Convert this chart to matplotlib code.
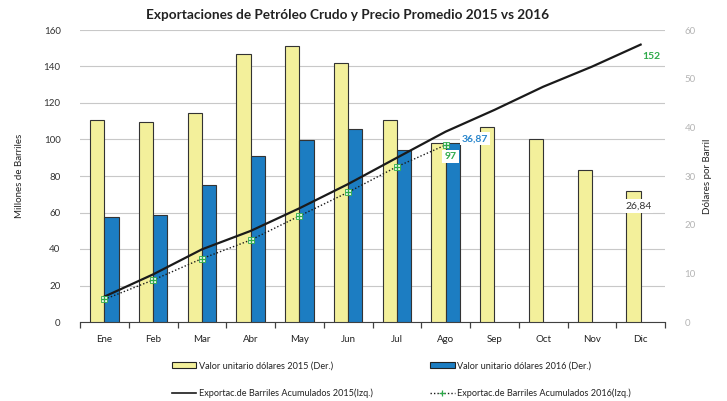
import matplotlib
matplotlib.use("Agg")
import matplotlib.pyplot as plt
from matplotlib.patches import Patch
from matplotlib.lines import Line2D
import numpy as np

plt.rcParams['font.family'] = ['Lato', 'DejaVu Sans']

meses = ['Ene', 'Feb', 'Mar', 'Abr', 'May', 'Jun', 'Jul', 'Ago', 'Sep', 'Oct', 'Nov', 'Dic']
precio_2015 = [41.5, 41.1, 42.9, 55.0, 56.7, 53.3, 41.5, 36.7, 40.1, 37.6, 31.2, 26.84]
precio_2016 = [21.5, 22.05, 28.1, 34.2, 37.5, 39.7, 35.3, 36.87]
acum_2015 = [13.9, 26.1, 39.8, 49.9, 62.3, 75.6, 90.0, 104.3, 116.2, 128.9, 139.9, 152]
acum_2016 = [12.4, 23.0, 34.7, 44.9, 58.1, 71.1, 85.1, 97]

amarillo = '#f3f09b'
azul = '#1c7dc2'
verde = '#2eaa4a'
borde = '#333333'

fig = plt.figure(figsize=(7.27, 4.01), dpi=100)
ax = fig.add_axes([80 / 727, 79 / 401, 585 / 727, 292 / 401])
ax_der = ax.twinx()
ax_lin = ax.twinx()

x = np.arange(len(meses))
x16 = np.arange(len(precio_2016))
w = 0.29

# grid + left axis
ax.set_ylim(0, 160)
ax.set_yticks(range(0, 161, 20))
ax.grid(axis='y', color='#c8c8c8', linewidth=0.8)
ax.set_axisbelow(True)
ax.tick_params(axis='y', length=0, labelsize=7, colors='#333333', pad=14)
ax.set_ylabel('Millones de Barriles', fontsize=7, color='#222222', labelpad=14)

ax.set_xlim(-0.5, 11.5)
ax.set_xticks(np.arange(-0.5, 12, 1))
ax.set_xticklabels([])
ax.set_xticks(x, minor=True)
ax.set_xticklabels(meses, minor=True)
ax.tick_params(axis='x', which='major', length=4, direction='out', color='#404040', width=0.9)
ax.tick_params(axis='x', which='minor', length=0, labelsize=7, colors='#222222', pad=9)
for s in ['top', 'left', 'right']:
    ax.spines[s].set_visible(False)
ax.spines['bottom'].set_color('#404040')

# bars on right axis
ax_der.bar(x - w / 2, precio_2015, width=w, color=amarillo, edgecolor=borde, linewidth=0.8, zorder=2)
ax_der.bar(x16 + w / 2, precio_2016, width=w, color=azul, edgecolor=borde, linewidth=0.8, zorder=2)
ax_der.set_ylim(0, 60)
ax_der.set_yticks(range(0, 61, 10))
ax_der.tick_params(axis='y', length=0, labelsize=7, colors='#b5b5b5', pad=14)
ax_der.set_ylabel('Dólares por Barril', fontsize=7, color='#222222', labelpad=5)
for s in ax_der.spines.values():
    s.set_visible(False)

# lines on top
ax_lin.set_ylim(0, 160)
ax_lin.axis('off')
ax_lin.plot(x, acum_2015, color='#1a1a1a', linewidth=1.6)
ax_lin.plot(x16, acum_2016, color='#1a1a1a', linewidth=1.0, linestyle=(0, (1, 1.5)))
ax_lin.plot(x16, acum_2016, linestyle='none', marker='s', markersize=4,
            markerfacecolor='#e8f5e8', markeredgecolor=verde, markeredgewidth=0.6)
ax_lin.plot(x16, acum_2016, linestyle='none', marker='+', markersize=4,
            color=verde, markeredgewidth=0.9)

# data labels
caja = dict(boxstyle='square,pad=0.2', facecolor='white', edgecolor='none')
ax_der.text(x16[-1] + 0.33, precio_2016[-1] + 0.8, '36,87', color='#2a86cc', fontsize=7.5,
            fontweight='bold', ha='left', va='center', bbox=caja, zorder=5)
ax_lin.text(x16[-1] + 0.1, acum_2016[-1] - 6.5, '97', color=verde, fontsize=7.5,
            fontweight='bold', ha='center', va='center', bbox=caja, zorder=5)
ax_lin.text(x[-1] + 0.22, acum_2015[-1] - 6.5, '152', color=verde, fontsize=7.5,
            fontweight='bold', ha='center', va='center', zorder=5)
ax_der.text(x[-1] - 0.05, precio_2015[-1] - 3.0, '26,84', color='#333333', fontsize=7.5,
            ha='center', va='center', bbox=caja, zorder=5)

fig.text(0.478, 0.962, 'Exportaciones de Petróleo Crudo y Precio Promedio 2015 vs 2016',
         fontsize=9.8, fontweight='bold', ha='center', va='center', color='#222222')

handles = [
    Patch(facecolor=amarillo, edgecolor='#222222', linewidth=0.8),
    Line2D([], [], color='#1a1a1a', linewidth=1.2),
    Patch(facecolor=azul, edgecolor='#222222', linewidth=0.8),
    Line2D([], [], color='#1a1a1a', linewidth=1.0, linestyle=(0, (1, 1.5)),
           marker='+', markersize=4, markeredgecolor=verde, markeredgewidth=0.9),
]
labels = [
    'Valor unitario dólares 2015 (Der.)',
    'Exportac.de Barriles Acumulados 2015(Izq.)',
    'Valor unitario dólares 2016 (Der.)',
    'Exportac.de Barriles Acumulados 2016(Izq.)',
]
fig.legend(handles, labels, ncol=2, loc='lower center', bbox_to_anchor=(0.552, -0.013),
           frameon=False, fontsize=6.6, handlelength=2.7, handleheight=0.6,
           handletextpad=0.3, columnspacing=6.2, labelspacing=2.0,
           labelcolor='#222222')

fig.savefig('out.png', dpi=100)
